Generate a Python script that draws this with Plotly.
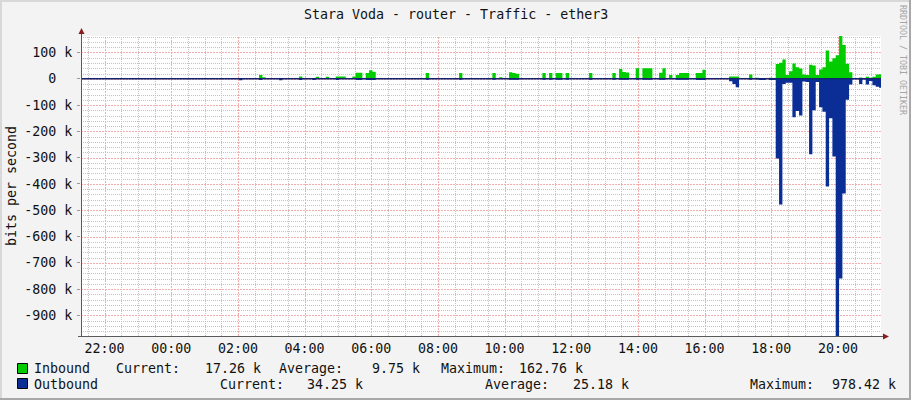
import plotly.graph_objects as go
import pandas as pd

# ---------------- data ----------------
title_text = "Stara Voda - router - Traffic - ether3"
y_axis_label = "bits per second"
watermark = "RRDTOOL / TOBI OETIKER"
start_time = "2024-05-01 21:20"      # first 6-minute sample
step_minutes = 6
view_start = "2024-05-01 21:17:30"
view_end = "2024-05-02 21:17:30"

# inbound traffic, k bits/s, 240 samples of 6 minutes
inbound_k = [
    0, 0, 0, 0, 0, 0, 0, 0, 0, 0, 0, 0, 0, 0, 0, 0, 0, 0, 0, 0,
    0, 0, 0, 0, 0, 0, 0, 0, 0, 0, 0, 0, 0, 0, 0, 0, 0, 0, 0, 0,
    0, 0, 0, 0, 0, 0, 0, 0, 0, 0, 0, 0, 0, 14, 6, 0, 0, 0, 0, 0,
    0, 0, 0, 0, 0, 9, 0, 0, 0, 0, 8, 0, 0, 8, 0, 0, 9, 9, 9, 0,
    0, 9, 23, 23, 0, 22, 32, 27, 0, 0, 0, 0, 0, 0, 0, 0, 0, 0, 0, 0,
    0, 0, 0, 22, 0, 0, 0, 0, 0, 0, 0, 0, 0, 22, 0, 0, 0, 0, 0, 0,
    0, 0, 0, 22, 0, 6, 0, 0, 25, 22, 19, 0, 0, 0, 0, 0, 0, 0, 22, 0,
    22, 0, 22, 22, 0, 22, 0, 0, 0, 0, 0, 0, 22, 0, 0, 0, 0, 0, 0, 22,
    0, 37, 26, 24, 0, 0, 40, 0, 40, 40, 40, 0, 0, 23, 40, 0, 14, 0, 14, 22,
    22, 22, 0, 0, 22, 22, 34, 0, 0, 0, 0, 0, 0, 0, 9, 9, 9, 0, 0, 0,
    16, 0, 4, 0, 0, 0, 4, 0, 56, 61, 73, 14, 29, 58, 44, 39, 16, 14, 53, 51,
    14, 35, 44, 108, 66, 78, 90, 162.76, 129, 57, 25, 0, 0, 5, 0, 8, 4, 8, 16, 17.26,
]

# outbound traffic, k bits/s (drawn downwards)
outbound_k = [
    0, 0, 0, 0, 0, 0, 0, 0, 0, 0, 0, 0, 0, 0, 0, 0, 0, 0, 0, 0,
    0, 0, 0, 0, 0, 0, 0, 0, 0, 0, 0, 0, 0, 0, 0, 0, 0, 0, 0, 0,
    0, 0, 0, 0, 0, 0, 0, 6, 0, 0, 0, 0, 0, 5, 0, 0, 0, 0, 0, 6,
    0, 0, 0, 0, 0, 5, 0, 0, 0, 5, 0, 0, 0, 0, 0, 0, 5, 0, 0, 0,
    0, 0, 5, 5, 0, 5, 5, 5, 0, 0, 0, 0, 0, 0, 0, 0, 0, 0, 0, 0,
    0, 0, 0, 4, 0, 0, 0, 0, 0, 0, 0, 0, 0, 4, 0, 0, 0, 0, 0, 0,
    0, 0, 0, 4, 0, 0, 0, 0, 4, 4, 4, 0, 0, 0, 0, 0, 0, 0, 4, 0,
    4, 0, 4, 4, 0, 4, 0, 0, 0, 0, 0, 0, 4, 0, 0, 0, 0, 0, 0, 4,
    0, 4, 4, 4, 0, 0, 4, 0, 4, 4, 4, 0, 0, 4, 4, 0, 0, 0, 4, 4,
    4, 4, 0, 0, 5, 5, 5, 0, 0, 0, 0, 0, 0, 0, 9, 20, 32, 0, 0, 0,
    4, 0, 3, 5, 5, 0, 5, 5, 303, 478, 20, 15, 15, 146, 123, 140, 10, 12, 287, 120,
    12, 108, 125, 410, 150, 296, 978.42, 760, 436, 80, 22, 2, 2, 20, 3, 22, 8, 25, 30, 34.25,
]

ytick_values_k = [100, 0, -100, -200, -300, -400, -500, -600, -700, -800, -900]
ytick_labels = ["100 k", "0\u00a0\u00a0", "-100 k", "-200 k", "-300 k", "-400 k",
                "-500 k", "-600 k", "-700 k", "-800 k", "-900 k"]
y_min_k = -978.42
y_max_k = 162.76

legend_names = ["Inbound", "Outbound"]
legend_current = ["17.26 k", "34.25 k"]
legend_average = ["9.75 k", "25.18 k"]
legend_maximum = ["162.76 k", "978.42 k"]

# ---------------- styling ----------------
GREEN = "#00CC00"
BLUE = "#0A2E96"
FONT = "DejaVu Sans Mono"
FS = 13.3
W, H = 911, 400
L, R, T, B = 81, 881, 36, 336  # plot area in pixels
MAJOR = "#F3AEAE"
MINOR = "#C4C4C4"


def px(X):
    return (X - L) / (R - L)


def py(Y):
    return (B - Y) / (B - T)


times = pd.date_range(start_time, periods=len(inbound_k) + 1, freq=f"{step_minutes}min")
y_in = [v * 1000 for v in inbound_k] + [inbound_k[-1] * 1000]
y_out = [-v * 1000 for v in outbound_k] + [-outbound_k[-1] * 1000]

# ---- grid lines (snapped to whole pixels, expressed in axis units) ----
vs, ve = pd.Timestamp(view_start), pd.Timestamp(view_end)
span = ve - vs
y_lo, y_hi = y_min_k * 1000, y_max_k * 1000
grid_times = pd.date_range(vs.ceil("30min"), ve, freq="30min")
grid_sets = {k: ([], []) for k in ("minor", "major")}
for t in grid_times:
    f = (t - vs) / span
    xp = round(L + f * (R - L)) + 0.5
    ts = (vs + span * ((xp - L) / (R - L))).round("ms").strftime("%Y-%m-%d %H:%M:%S.%f")[:-3]
    gx, gy = grid_sets["major" if (t.minute == 0 and t.hour % 2 == 0) else "minor"]
    gx += [ts, ts, None]
    gy += [y_lo, y_hi, None]
for v in range(-960, 161, 20):
    f = (v - y_min_k) / (y_max_k - y_min_k)
    yp = round(B - f * (B - T)) + 0.5
    yv = y_lo + (B - yp) / (B - T) * (y_hi - y_lo)
    gx, gy = grid_sets["major" if v % 100 == 0 else "minor"]
    gx += [view_start, view_end, None]
    gy += [yv, yv, None]

fig = go.Figure()
grid_styles = [
    ("minor", dict(color=MINOR, width=1, dash="1px,1px")),
    ("major", dict(color=MAJOR, width=1, dash="2px,1px")),
]
for key, style in grid_styles:
    gx, gy = grid_sets[key]
    fig.add_trace(go.Scatter(x=gx, y=gy, mode="lines", line=dict(**style, simplify=False),
                             hoverinfo="skip"))
fig.add_trace(go.Scatter(x=times, y=y_in, mode="lines", line=dict(width=0, shape="hv", color=GREEN),
                         fill="tozeroy", fillcolor=GREEN, hoverinfo="skip"))
fig.add_trace(go.Scatter(x=times, y=y_out, mode="lines", line=dict(width=0, shape="hv", color=BLUE),
                         fill="tozeroy", fillcolor=BLUE, hoverinfo="skip"))

fig.update_layout(
    width=W, height=H,
    margin=dict(l=L, r=W - R, t=T, b=H - B, pad=0),
    paper_bgcolor="#F3F3F3", plot_bgcolor="#FFFFFF",
    showlegend=False,
    xaxis=dict(
        type="date", range=[view_start, view_end],
        tick0="2024-05-01 22:00", dtick=2 * 3600 * 1000, tickformat="%H:%M",
        showgrid=False,
        zeroline=False, showline=False, ticks="",
        tickfont=dict(family=FONT, size=FS, color="#111111"),
        ticklabelstandoff=3,
        fixedrange=True,
    ),
    yaxis=dict(
        range=[y_lo, y_hi],
        tickmode="array", tickvals=[v * 1000 for v in ytick_values_k], ticktext=ytick_labels,
        showgrid=False,
        zeroline=False, showline=False, ticks="outside", ticklen=3, tickcolor="#999999",
        tickfont=dict(family=FONT, size=FS, color="#111111"),
        ticklabelstandoff=2,
        fixedrange=True,
    ),
)

shapes = []
# zero line
shapes.append(dict(type="line", xref="paper", yref="y", x0=0, x1=1, y0=0, y1=0,
                   line=dict(color="#15226E", width=1.6), layer="above"))
# axes
shapes.append(dict(type="line", xref="paper", yref="paper", x0=px(81.5), x1=px(81.5), y0=0, y1=py(31),
                   line=dict(color="#5A5A5A", width=1), layer="above"))
shapes.append(dict(type="line", xref="paper", yref="paper", x0=px(78), x1=px(884), y0=py(336.5), y1=py(336.5),
                   line=dict(color="#5A5A5A", width=1), layer="above"))
# arrows
shapes.append(dict(type="path", xref="paper", yref="paper",
                   path=f"M {px(78.5)} {py(34)} L {px(84.5)} {py(34)} L {px(81.5)} {py(28)} Z",
                   fillcolor="#8B1C1C", line=dict(width=0), layer="above"))
shapes.append(dict(type="path", xref="paper", yref="paper",
                   path=f"M {px(883)} {py(333.5)} L {px(883)} {py(339.5)} L {px(889)} {py(336.5)} Z",
                   fillcolor="#8B1C1C", line=dict(width=0), layer="above"))
# frame
shapes.append(dict(type="rect", xref="paper", yref="paper", x0=px(909), x1=px(911), y0=py(0), y1=py(400),
                   fillcolor="#A8A8A8", line=dict(width=0), layer="above"))
shapes.append(dict(type="rect", xref="paper", yref="paper", x0=px(0), x1=px(911), y0=py(398), y1=py(400),
                   fillcolor="#A8A8A8", line=dict(width=0), layer="above"))
shapes.append(dict(type="rect", xref="paper", yref="paper", x0=px(0), x1=px(2), y0=py(0), y1=py(398),
                   fillcolor="#D8D8D8", line=dict(width=0), layer="above"))
shapes.append(dict(type="rect", xref="paper", yref="paper", x0=px(0), x1=px(909), y0=py(0), y1=py(2),
                   fillcolor="#D8D8D8", line=dict(width=0), layer="above"))
# legend swatches
for (Y0, Y1, col) in [(363.5, 373.5, GREEN), (378.5, 388.5, BLUE)]:
    shapes.append(dict(type="rect", xref="paper", yref="paper", x0=px(17.5), x1=px(27.5), y0=py(Y1), y1=py(Y0),
                       fillcolor=col, line=dict(color="#000000", width=1), layer="above"))
fig.update_layout(shapes=shapes)

ann = []


def text(s, X, Y, xanchor="left", size=FS, color="#111111", angle=0, yanchor="middle"):
    ann.append(dict(text=s, xref="paper", yref="paper", x=px(X), y=py(Y), xanchor=xanchor, yanchor=yanchor,
                    showarrow=False, textangle=angle, borderpad=0,
                    font=dict(family=FONT, size=size, color=color)))


text(title_text, 455.5, 15, xanchor="center")
text(y_axis_label, 11, 186, xanchor="center", angle=-90)
text(watermark, 903, 60, xanchor="center", size=8.3, color="#A5A5A5", angle=90)

row_y = [368, 384]
col_x = [
    [33, 115, 203.5, 278, 371, 439.5, 518],
    [33, 218.5, 306, 484, 571.5, 748.5, 831],
]
for i in range(2):
    items = [legend_names[i], "Current:", legend_current[i], "Average:", legend_average[i],
             "Maximum:", legend_maximum[i]]
    for s, X in zip(items, col_x[i]):
        text(s, X, row_y[i])
fig.update_layout(annotations=ann)

fig.write_html("out.html", config={"displayModeBar": False, "staticPlot": True},
               post_script="document.body.style.margin='0px';document.body.style.padding='0px';")
